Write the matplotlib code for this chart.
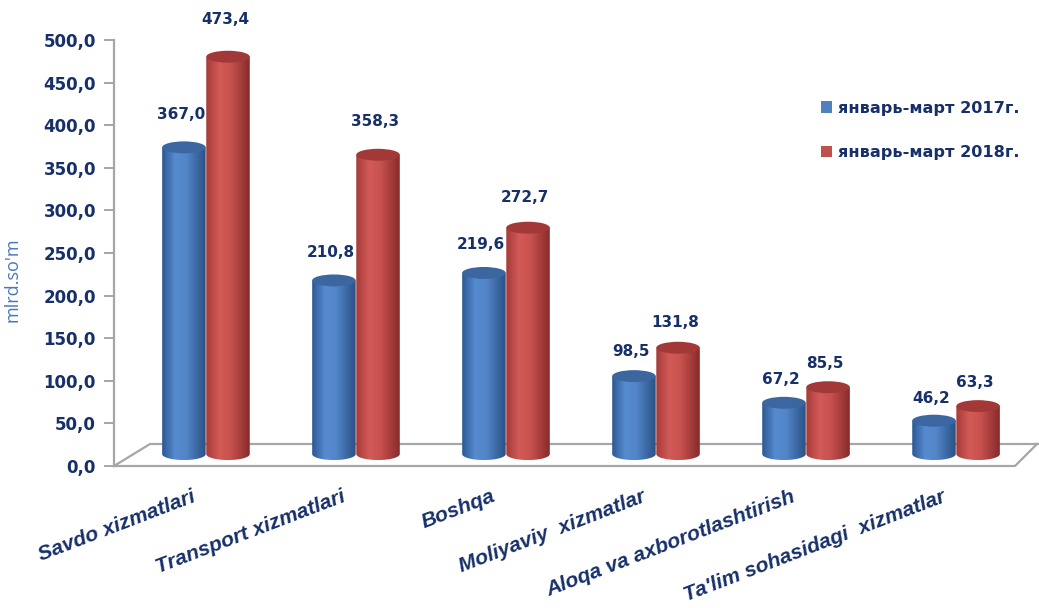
import numpy as np
import matplotlib
matplotlib.use("Agg")
import matplotlib.pyplot as plt
from matplotlib.colors import LinearSegmentedColormap
from matplotlib.patches import Ellipse, PathPatch, Patch
from matplotlib.path import Path
from matplotlib.transforms import ScaledTranslation

categories = ["Savdo xizmatlari", "Transport xizmatlari", "Boshqa",
              "Moliyaviy  xizmatlar", "Aloqa va axborotlashtirish",
              "Ta'lim sohasidagi  xizmatlar"]
values_2017 = [367.0, 210.8, 219.6, 98.5, 67.2, 46.2]
values_2018 = [473.4, 358.3, 272.7, 131.8, 85.5, 63.3]
series_names = ["январь-март 2017г.", "январь-март 2018г."]
yticks = np.arange(0, 501, 50)

NAVY = "#17306a"
GRAY = "#a6a6a6"
W, H = 1039, 608
fig = plt.figure(figsize=(W / 100, H / 100), dpi=100)
ax = fig.add_axes([114 / W, 1 - 466 / H, 901 / W, 426 / H])

# floor (3D base) in axes fractions
fb = 22 / 426
fx = 36 / 901
ax.plot([0, fx, 1.0 + 26 / 901], [0, fb, fb], transform=ax.transAxes,
        color=GRAY, lw=1.6, clip_on=False, zorder=1)
ax.plot([0, 1.0, 1.0 + 22 / 901], [0, 0, fb], transform=ax.transAxes,
        color=GRAY, lw=1.6, clip_on=False, zorder=1)

blue_cmap = LinearSegmentedColormap.from_list(
    "b", [(0, "#2c5893"), (0.3, "#568bcf"), (0.55, "#5286c9"), (1, "#2a5185")])
red_cmap = LinearSegmentedColormap.from_list(
    "r", [(0, "#a53a38"), (0.3, "#d25a57"), (0.55, "#c9524f"), (1, "#862b2a")])
top_colors = ["#3c669f", "#a23938"]

bw = 0.29
off = 0.147
base = 14.0
lift = 7.0
eh = 14.0
grad = np.linspace(0, 1, 256).reshape(1, -1)


def cylinder(xc, val, cmap, topc, z):
    x0, x1 = xc - bw / 2, xc + bw / 2
    top = val + lift
    t = np.linspace(np.pi, 2 * np.pi, 40)
    arc = np.column_stack([xc + bw / 2 * np.cos(t), base + eh / 2 * np.sin(t)])
    verts = np.vstack([[[x0, top]], arc, [[x1, top]], [[x0, top]]])
    clip = PathPatch(Path(verts), transform=ax.transData, facecolor="none",
                     edgecolor="none")
    ax.add_patch(clip)
    im = ax.imshow(grad, cmap=cmap, extent=[x0, x1, base - eh, top],
                   aspect="auto", zorder=z, interpolation="bilinear")
    im.set_clip_path(clip)
    ax.add_patch(Ellipse((xc, top), bw, eh, facecolor=topc,
                         edgecolor="none", zorder=z + 0.1))


x = np.arange(len(categories))
for i in x:
    cylinder(i - off, values_2017[i], blue_cmap, top_colors[0], 3)
    cylinder(i + off, values_2018[i], red_cmap, top_colors[1], 4)
    for dx, v in [(-off, values_2017[i]), (off, values_2018[i])]:
        ax.annotate(f"{v:.1f}".replace(".", ","), (i + dx, v * 1.039 + 31.7),
                    xytext=(-3, 0), textcoords="offset pixels",
                    ha="center", va="center", fontsize=11,
                    fontweight="bold", color=NAVY, annotation_clip=False)
ax.set_xlim(-0.613, 5.393)
ax.set_ylim(0, 500)

for s in ["top", "right", "bottom"]:
    ax.spines[s].set_visible(False)
ax.spines["left"].set_color(GRAY)
ax.spines["left"].set_linewidth(1.6)
ax.set_yticks(yticks)
ax.set_yticklabels([f"{v:.1f}".replace(".", ",") for v in yticks],
                   fontsize=12, fontweight="bold", color=NAVY)
ax.tick_params(axis="y", length=7, color=GRAY, width=1.4, pad=6)
ax.set_xticks([])

ax.set_ylabel("mlrd.so'm", fontsize=13, color="#4a78b8", family="Open Sans")
ax.yaxis.set_label_coords(-0.103, 0.437)

offset = ScaledTranslation(-15 / 100, -21 / 100, fig.dpi_scale_trans)
for i, c in enumerate(categories):
    ax.text(i, 0, c, transform=ax.get_xaxis_transform() + offset,
            rotation=21, rotation_mode="anchor", ha="right", va="top",
            fontsize=15.2, fontweight="bold", fontstyle="italic",
            family="Liberation Sans", color=NAVY)

handles = [Patch(facecolor="#4f81bd"), Patch(facecolor="#c0504d")]
fig.legend(handles, series_names, loc="upper left",
           bbox_to_anchor=(806 / W, 1 - 86 / H), frameon=False,
           prop={"weight": "bold", "size": 11.6}, labelcolor=NAVY,
           handlelength=0.72, handleheight=0.72, handletextpad=0.35,
           labelspacing=1.85)

fig.savefig("out.png", dpi=100)
